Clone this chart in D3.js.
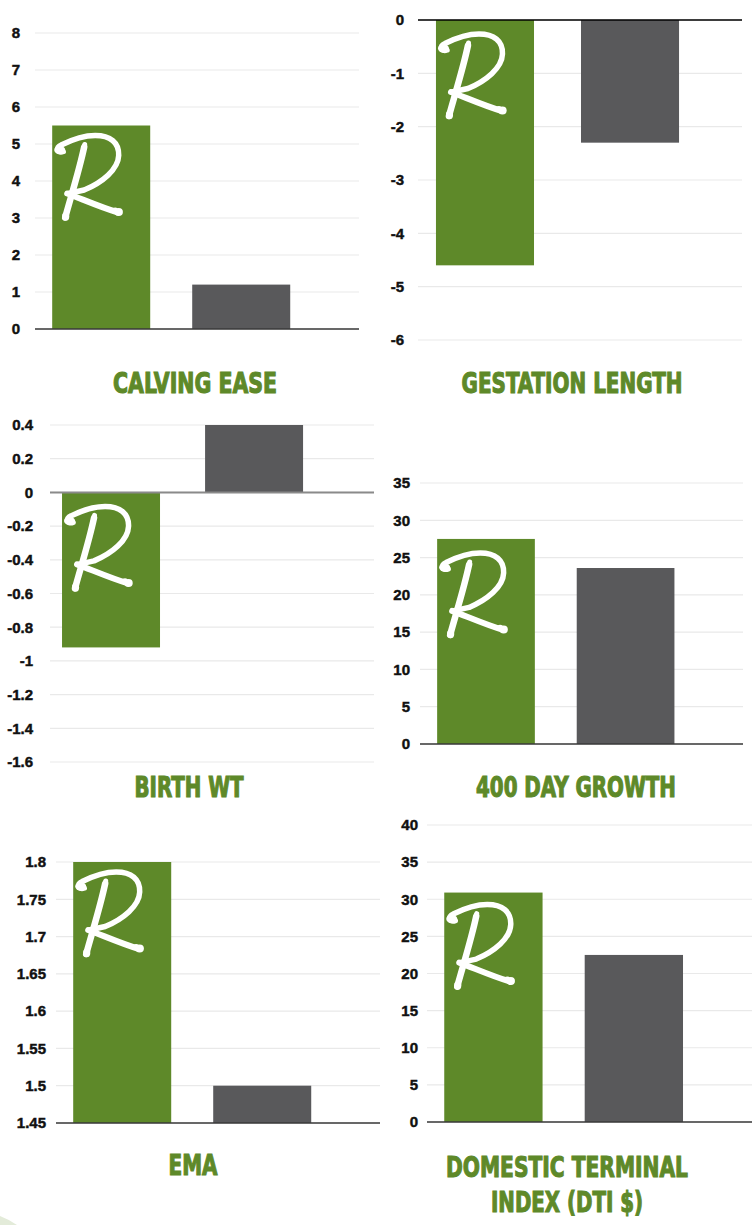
<!DOCTYPE html>
<html>
<head>
<meta charset="utf-8">
<script src="https://cdn.jsdelivr.net/npm/d3@7"></script>
<style>
  html, body { margin: 0; padding: 0; background: #ffffff; }
  svg { display: block; }
  .tick text { font-family: "Liberation Sans", Arial, sans-serif; font-weight: bold; font-size: 15px; fill: #111; stroke: #111; stroke-width: 0.45px; }
  .title { font-family: "Liberation Sans Narrow", "DejaVu Sans Condensed", "Liberation Sans", sans-serif; font-weight: bold; font-size: 28px; fill: #5e8929; stroke: #5e8929; stroke-width: 1.1px; }
</style>
</head>
<body>
<script>
// ---------------- DATA ----------------
const categories = ["Calving Ease", "Gestation Length", "Birth Wt", "400 Day Growth", "EMA", "Domestic Terminal Index (DTI $)"];
const seriesNames = ["Sire", "Breed Average"];
const sireValues = [5.5, -4.6, -0.92, 27.5, 1.8, 30.9];
const breedAverageValues = [1.2, -2.3, 0.4, 23.6, 1.5, 22.5];
const titleLines = [
  ["CALVING EASE"],
  ["GESTATION LENGTH"],
  ["BIRTH WT"],
  ["400 DAY GROWTH"],
  ["EMA"],
  ["DOMESTIC TERMINAL", "INDEX (DTI $)"]
];
const ticksCalvingEase = [0, 1, 2, 3, 4, 5, 6, 7, 8];
const ticksGestation = [-6, -5, -4, -3, -2, -1, 0];
const ticksBirthWt = [-1.6, -1.4, -1.2, -1, -0.8, -0.6, -0.4, -0.2, 0, 0.2, 0.4];
const ticks400Day = [0, 5, 10, 15, 20, 25, 30, 35];
const ticksEMA = [1.45, 1.5, 1.55, 1.6, 1.65, 1.7, 1.75, 1.8];
const ticksDTI = [0, 5, 10, 15, 20, 25, 30, 35, 40];
const tickSets = [ticksCalvingEase, ticksGestation, ticksBirthWt, ticks400Day, ticksEMA, ticksDTI];

// ---------------- LAYOUT (positions / styles) ----------------
const W = 755, H = 1225;
const GREEN = "#5e8929", GRAY = "#59595b", GRID = "#e9e9e9";
const layout = [
  { left: 35,  right: 359, yTop: 33,  yBot: 329,  gap: 15, axis: "#3a3a3a", axisW: 1.5, pi: 0.30,  po: 0.307, al: 0.20,  tx: 195, ty: [393], tw: [164], rdy: 0 },
  { left: 418, right: 742, yTop: 20,  yBot: 340,  gap: 14, axis: "#000000", axisW: 1.5, pi: 0.324, po: 0.279, al: 0.222, tx: 572, ty: [393], tw: [221], rdy: 4 },
  { left: 50,  right: 374, yTop: 425, yBot: 762,  gap: 17, axis: "#8a8a8a", axisW: 2,   pi: 0.315, po: 0.29,  al: 0.145, tx: 189, ty: [797], tw: [109], rdy: 4 },
  { left: 420, right: 743, yTop: 483, yBot: 744,  gap: 10, axis: "#3a3a3a", axisW: 1.5, pi: 0.30,  po: 0.307, al: 0.20,  tx: 576, ty: [797], tw: [200], rdy: 4 },
  { left: 56,  right: 380, yTop: 862, yBot: 1123, gap: 10, axis: "#3a3a3a", axisW: 1.5, pi: 0.30,  po: 0.307, al: 0.20,  tx: 193, ty: [1175], tw: [49], rdy: 0 },
  { left: 427, right: 752, yTop: 825, yBot: 1122, gap: 9,  axis: "#3a3a3a", axisW: 1.5, pi: 0.30,  po: 0.307, al: 0.20,  tx: 567, ty: [1177, 1212], tw: [242, 152], rdy: 2 }
];

const svg = d3.select("body").append("svg").attr("width", W).attr("height", H);

// faint decorative shape at bottom-left corner
svg.append("path").attr("d", "M0,1216 Q8,1219 17,1225 L0,1225 Z").attr("fill", "#e3ebd9");

const fmt = v => String(+v.toFixed(2));

function drawLogo(g) {
  // bowl
  g.append("path").attr("d", "M10,26 C4,28 2,22 8,19.5 C18,14.5 30,10 42,10 C57,10 66,17 65.5,30 C65,44 49,57 31,64.5 L15,68")
    .attr("fill", "none").attr("stroke", "#fff").attr("stroke-width", 5.5)
    .attr("stroke-linecap", "round").attr("stroke-linejoin", "round");
  // stem
  g.append("path").attr("d", "M31,21.5 C26,45 18,70 12,92")
    .attr("fill", "none").attr("stroke", "#fff").attr("stroke-width", 6.5).attr("stroke-linecap", "round");
  g.append("path").attr("d", "M31.5,19 L29.5,28")
    .attr("fill", "none").attr("stroke", "#fff").attr("stroke-width", 5).attr("stroke-linecap", "round");
  // leg
  g.append("path").attr("d", "M14,68 C30,74 48,82 65,87")
    .attr("fill", "none").attr("stroke", "#fff").attr("stroke-width", 6).attr("stroke-linecap", "round");
  // blobs
  g.append("ellipse").attr("cx", 6.5).attr("cy", 24.5).attr("rx", 5.5).attr("ry", 4.2).attr("fill", "#fff");
  g.append("ellipse").attr("cx", 65.5).attr("cy", 86.5).attr("rx", 4.2).attr("ry", 4).attr("fill", "#fff");
  g.append("ellipse").attr("cx", 12.5).attr("cy", 91).attr("rx", 3.6).attr("ry", 4.2).attr("fill", "#fff");
  g.append("ellipse").attr("cx", 62).attr("cy", 84.5).attr("rx", 3).attr("ry", 2.6).attr("fill", "#fff");
}

categories.forEach((cat, i) => {
  const L = layout[i];
  const ticks = tickSets[i];
  const domain = d3.extent(ticks);
  const y = d3.scaleLinear().domain(domain).range([L.yBot, L.yTop]);
  const x = d3.scaleBand().domain(seriesNames).range([L.left, L.right])
    .paddingInner(L.pi).paddingOuter(L.po).align(L.al);
  const g = svg.append("g");

  // gridlines
  g.append("g").selectAll("line").data(ticks).join("line")
    .attr("x1", L.left).attr("x2", L.right)
    .attr("y1", d => y(d)).attr("y2", d => y(d))
    .attr("stroke", GRID).attr("stroke-width", 1.2);

  // y axis labels
  const ax = g.append("g").attr("transform", `translate(${L.left},0)`)
    .call(d3.axisLeft(y).tickValues(ticks).tickFormat(fmt).tickSize(0).tickPadding(L.gap));
  ax.select(".domain").remove();

  const base = Math.max(domain[0], Math.min(domain[1], 0));
  const vals = [sireValues[i], breedAverageValues[i]];
  const colors = [GREEN, GRAY];

  g.append("g").selectAll("rect").data(vals).join("rect")
    .attr("x", (d, j) => x(seriesNames[j]))
    .attr("width", x.bandwidth())
    .attr("y", d => y(Math.max(d, base)))
    .attr("height", d => Math.abs(y(d) - y(base)))
    .attr("fill", (d, j) => colors[j]);

  // baseline
  g.append("line").attr("x1", L.left).attr("x2", L.right)
    .attr("y1", y(base)).attr("y2", y(base))
    .attr("stroke", L.axis).attr("stroke-width", L.axisW);

  // logo on sire bar
  const lx = x(seriesNames[0]) + 1;
  const ly = y(Math.max(vals[0], base)) + L.rdy;
  drawLogo(g.append("g").attr("transform", `translate(${lx},${ly})`));

  // title
  titleLines[i].forEach((t, k) => {
    g.append("text").attr("class", "title")
      .attr("x", L.tx).attr("y", L.ty[k]).attr("text-anchor", "middle")
      .attr("textLength", L.tw[k]).attr("lengthAdjust", "spacingAndGlyphs")
      .text(t);
  });
});
</script>
</body>
</html>
